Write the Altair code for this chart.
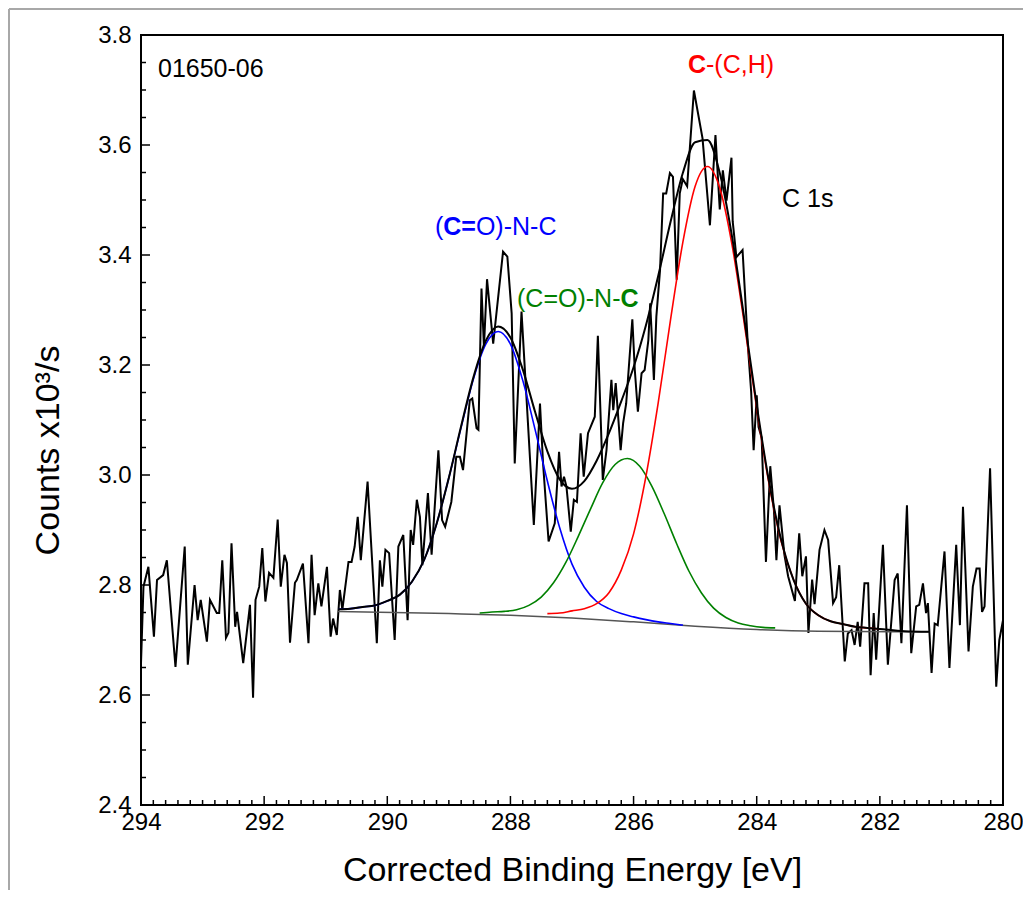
import altair as alt
import pandas as pd

# ---------------- data ----------------
energy = [294.00, 293.96, 293.88, 293.79, 293.74, 293.64, 293.58, 293.44, 293.29, 293.24,
          293.13, 293.08, 293.03, 292.93, 292.88, 292.77, 292.73, 292.68, 292.62, 292.58,
          292.53, 292.47, 292.44, 292.34, 292.23, 292.18, 292.14, 292.08, 292.03, 291.98,
          291.92, 291.85, 291.78, 291.73, 291.67, 291.63, 291.58, 291.50,
          291.47, 291.37, 291.28, 291.23, 291.18, 291.12, 291.07, 290.98, 290.92, 290.88,
          290.82, 290.77, 290.73, 290.63, 290.58, 290.53, 290.48, 290.43, 290.32, 290.17,
          290.12, 290.08, 290.03, 289.97, 289.88, 289.82, 289.74, 289.67, 289.62, 289.58,
          289.52, 289.47, 289.43, 289.34, 289.28, 289.17, 289.11, 289.06,
          288.96, 288.88, 288.82, 288.77, 288.66, 288.62, 288.55, 288.52, 288.47, 288.43,
          288.38, 288.28, 288.12, 288.05, 287.98, 287.93, 287.82, 287.74, 287.62, 287.52,
          287.47, 287.38, 287.28, 287.21, 287.17, 287.13, 287.09, 287.02, 286.97, 286.92,
          286.86, 286.81, 286.74,
          286.63, 286.58, 286.50, 286.44, 286.36, 286.33, 286.29, 286.21, 286.17, 286.12,
          286.02, 285.98, 285.93, 285.87, 285.82, 285.76, 285.73, 285.67, 285.63,
          285.57, 285.52, 285.47, 285.41, 285.36, 285.30, 285.25, 285.20, 285.13, 285.02,
          284.88, 284.76, 284.67, 284.60, 284.55, 284.49, 284.41, 284.39, 284.33, 284.23,
          284.14, 284.09, 284.05, 284.00, 283.97, 283.92, 283.85, 283.78, 283.72, 283.68,
          283.63, 283.55, 283.49, 283.38, 283.31, 283.26, 283.20, 283.16, 283.10, 283.06,
          282.98, 282.90, 282.84, 282.76, 282.71, 282.66, 282.57, 282.52, 282.46, 282.41,
          282.36, 282.32, 282.25, 282.19, 282.15, 282.10, 282.06, 281.95, 281.87, 281.76,
          281.71, 281.65, 281.56, 281.49, 281.41, 281.36, 281.30, 281.25, 281.22, 281.16,
          281.11, 281.06, 280.95, 280.87, 280.76, 280.70, 280.65, 280.56, 280.49, 280.43,
          280.38, 280.34, 280.30, 280.21, 280.11, 280.06, 280.00]
counts = [2.658, 2.797, 2.833, 2.706, 2.809, 2.818, 2.845, 2.651, 2.870, 2.655,
          2.800, 2.736, 2.773, 2.697, 2.773, 2.749, 2.749, 2.845, 2.704, 2.713,
          2.876, 2.724, 2.751, 2.658, 2.764, 2.595, 2.773, 2.797, 2.867, 2.770,
          2.822, 2.813, 2.919, 2.797, 2.855, 2.840, 2.695, 2.804,
          2.809, 2.839, 2.694, 2.855, 2.745, 2.803, 2.761, 2.833, 2.706, 2.739,
          2.709, 2.791, 2.755, 2.842, 2.842, 2.870, 2.924, 2.845, 2.988, 2.694,
          2.845, 2.797, 2.864, 2.858, 2.700, 2.870, 2.891, 2.736, 2.900, 2.873,
          2.955, 2.924, 2.836, 2.967, 2.855, 3.045, 2.918, 2.906,
          2.951, 3.033, 3.033, 3.009, 3.136, 3.139, 3.085, 3.082, 3.339, 3.233,
          3.356, 3.239, 3.406, 3.397, 3.294, 3.021, 3.297, 3.142, 2.909, 3.130,
          3.021, 2.879, 2.912, 3.042, 2.979, 2.997, 2.979, 2.897, 2.955, 2.951,
          3.076, 2.997, 3.076,
          3.106, 3.253, 2.991, 3.045, 3.173, 3.118, 3.167, 3.045, 3.094, 3.130,
          3.283, 3.191, 3.115, 3.185, 3.191, 3.245, 3.312, 3.173, 3.288,
          3.373, 3.512, 3.512, 3.549, 3.542, 3.355, 3.512, 3.538, 3.525, 3.699,
          3.612, 3.454, 3.618, 3.483, 3.554, 3.499, 3.577, 3.461, 3.396, 3.409,
          3.229, 3.151, 3.045, 3.145, 3.087, 3.068, 2.842, 3.016, 2.935, 2.845,
          2.945, 2.855, 2.816, 2.771, 2.894, 2.816, 2.852, 2.713, 2.810, 2.765,
          2.864, 2.900, 2.882, 2.767, 2.778, 2.836, 2.661, 2.712, 2.718, 2.691,
          2.733, 2.688, 2.803, 2.803, 2.636, 2.749, 2.664, 2.873, 2.655, 2.809,
          2.821, 2.694, 2.945, 2.676, 2.761, 2.764, 2.803, 2.749, 2.767, 2.640,
          2.730, 2.727, 2.861, 2.649, 2.873, 2.727, 2.942, 2.679, 2.797, 2.830,
          2.830, 2.751, 2.761, 3.012, 2.615, 2.700, 2.736]

blue_E = [290.8, 290.6, 290.4, 290.2, 290.0, 289.8, 289.6, 289.4, 289.2, 289.0,
          288.8, 288.6, 288.4, 288.2, 288.0, 287.8, 287.6, 287.4, 287.2, 287.0,
          286.8, 286.6, 286.4, 286.2, 286.0, 285.8, 285.6, 285.4, 285.2]
blue_v = [2.756, 2.757, 2.760, 2.763, 2.771, 2.782, 2.806, 2.846, 2.911, 2.995,
          3.087, 3.175, 3.238, 3.261, 3.238, 3.172, 3.083, 2.989, 2.904, 2.838,
          2.796, 2.770, 2.757, 2.748, 2.742, 2.737, 2.733, 2.730, 2.727]

green_E = [288.5, 288.3, 288.1, 287.9, 287.7, 287.5, 287.3, 287.1, 286.9, 286.7,
           286.5, 286.3, 286.1, 285.9, 285.7, 285.5, 285.3, 285.1, 284.9, 284.7,
           284.5, 284.3, 284.1, 283.9, 283.7]
green_v = [2.749, 2.751, 2.752, 2.755, 2.763, 2.778, 2.804, 2.841, 2.888, 2.938,
           2.986, 3.019, 3.030, 3.016, 2.979, 2.929, 2.875, 2.825, 2.786, 2.758,
           2.741, 2.731, 2.726, 2.723, 2.722]

red_E = [287.4, 287.2, 287.0, 286.8, 286.6, 286.4, 286.2, 286.0, 285.8, 285.6,
         285.4, 285.2, 285.0, 284.8, 284.6, 284.4, 284.2, 284.0, 283.8, 283.6,
         283.4, 283.2, 283.0, 282.8, 282.6, 282.4, 282.2, 282.0]
red_v = [2.748, 2.749, 2.753, 2.757, 2.766, 2.786, 2.827, 2.893, 2.997, 3.131,
         3.282, 3.423, 3.525, 3.561, 3.522, 3.418, 3.274, 3.121, 2.984, 2.878,
         2.809, 2.766, 2.745, 2.734, 2.729, 2.724, 2.722, 2.720]

base_E = [290.8, 289.0, 288.0, 287.0, 286.0, 285.0, 284.0, 283.0, 281.2]
base_v = [2.752, 2.748, 2.745, 2.740, 2.733, 2.725, 2.719, 2.716, 2.715]

env_E = [290.8, 290.6, 290.4, 290.2, 290.0, 289.8, 289.6, 289.4, 289.2, 289.0,
         288.8, 288.6, 288.4, 288.2, 288.0, 287.8, 287.6, 287.4, 287.2, 287.0,
         286.8, 286.6, 286.4, 286.2, 286.0, 285.8, 285.6, 285.4, 285.2, 285.0,
         284.8, 284.6, 284.4, 284.2, 284.0, 283.8, 283.6, 283.4, 283.2, 283.0,
         282.8, 282.6, 282.4, 282.2, 282.0, 281.6, 281.2]
env_v = [2.756, 2.757, 2.760, 2.763, 2.771, 2.782, 2.806, 2.846, 2.911, 2.995,
         3.089, 3.178, 3.244, 3.270, 3.250, 3.192, 3.115, 3.043, 2.992, 2.975,
         2.989, 3.026, 3.076, 3.134, 3.196, 3.272, 3.362, 3.460, 3.549, 3.605,
         3.609, 3.549, 3.433, 3.283, 3.127, 2.988, 2.881, 2.809, 2.766, 2.745,
         2.734, 2.729, 2.724, 2.722, 2.720, 2.716, 2.715]

x_major = [294, 292, 290, 288, 286, 284, 282, 280]
x_minor = [round(280 + 0.2 * i, 1) for i in range(71) if i % 10 != 0]
y_major = [2.4, 2.6, 2.8, 3.0, 3.2, 3.4, 3.6, 3.8]
y_minor = [round(2.4 + 0.05 * i, 2) for i in range(29) if i % 4 != 0]

# ---------------- chart ----------------
W, H = 862, 770
FONT = "Liberation Sans"

xs = alt.Scale(domain=[280, 294], reverse=True, nice=False, zero=False)
ys = alt.Scale(domain=[2.4, 3.8], nice=False, zero=False)

xaxis = alt.Axis(values=x_major, format="d", title="Corrected Binding Energy [eV]",
                 ticks=False, domain=False, grid=False, labelFont=FONT, labelFontSize=24,
                 labelColor="black", labelPadding=5, labelFlush=False, labelOverlap=False,
                 titleFont=FONT, titleFontSize=34, titleFontWeight="normal", titleColor="black",
                 titleY=65, titleBaseline="middle")
yaxis = alt.Axis(values=y_major, format=".1f", title="Counts x10³/s",
                 ticks=False, domain=False, grid=False, labelFont=FONT, labelFontSize=24,
                 labelColor="black", labelPadding=10, labelFlush=False, labelOverlap=False,
                 titleFont=FONT, titleFontSize=34, titleFontWeight="normal", titleColor="black",
                 titleX=-93, titleY=415, titleAngle=-90, titleAlign="center",
                 titleBaseline="middle")


def curve(E, v, color, width, smooth=False):
    df = pd.DataFrame({"E": E, "v": v})
    mark = (alt.Chart(df).mark_line(color=color, strokeWidth=width, interpolate="monotone")
            if smooth else alt.Chart(df).mark_line(color=color, strokeWidth=width))
    return mark.encode(
        x=alt.X("E:Q", scale=xs, axis=xaxis),
        y=alt.Y("v:Q", scale=ys, axis=yaxis),
    )


spectrum = curve(energy, counts, "black", 2)
baseline = curve(base_E, base_v, "#555555", 1.5, True)
blue = curve(blue_E, blue_v, "#0000ff", 1.6, True)
green = curve(green_E, green_v, "#008000", 1.6, True)
red = curve(red_E, red_v, "#ff0000", 1.6, True)
envelope = curve(env_E, env_v, "black", 2, True)


def xticks(vals, length):
    return alt.Chart(pd.DataFrame({"E": vals})).mark_rule(color="black", strokeWidth=1.5).encode(
        x=alt.X("E:Q", scale=xs, axis=xaxis), y=alt.value(H), y2=alt.value(H - length))


def yticks(vals, length):
    return alt.Chart(pd.DataFrame({"v": vals})).mark_rule(color="black", strokeWidth=1.5).encode(
        y=alt.Y("v:Q", scale=ys, axis=yaxis), x=alt.value(0), x2=alt.value(length))


def label(text, x, y, color="black", weight="normal", size=25):
    return alt.Chart().mark_text(text=text, align="left", baseline="alphabetic", font=FONT,
                                 fontSize=size, color=color, fontWeight=weight).encode(
        x=alt.value(x), y=alt.value(y))


texts = [
    label("01650-06", 17, 42),
    label("C", 547, 38, "#ff0000", "bold"),
    label("-(C,H)", 565, 38, "#ff0000"),
    label("C 1s", 641, 172),
    label("(", 294, 200, "#0000ff"),
    label("C=", 302.3, 200, "#0000ff", "bold"),
    label("O)-N-C", 334.9, 200, "#0000ff"),
    label("(C=O)-N-", 376, 272, "#008000"),
    label("C", 479.5, 272, "#008000", "bold"),
]

frame_left = alt.Chart().mark_rule(color="#a8a8a8", strokeWidth=2).encode(
    x=alt.value(-132), y=alt.value(-26), y2=alt.value(H + 85))
frame_top = alt.Chart().mark_rule(color="#a8a8a8", strokeWidth=2).encode(
    x=alt.value(-132), x2=alt.value(W + 20), y=alt.value(-26))

chart = alt.layer(
    frame_left, frame_top,
    spectrum, baseline, blue, green, red, envelope,
    xticks(x_major, 9), xticks(x_minor, 5), yticks(y_major, 9), yticks(y_minor, 5),
    *texts,
).properties(
    width=W, height=H,
    background="white",
    autosize=alt.AutoSizeParams(type="none"),
    padding={"left": 133, "top": 27, "right": 20, "bottom": 85},
).configure_view(stroke="black", strokeWidth=2)

chart.save("out.html", embed_options={"renderer": "svg", "actions": False})
